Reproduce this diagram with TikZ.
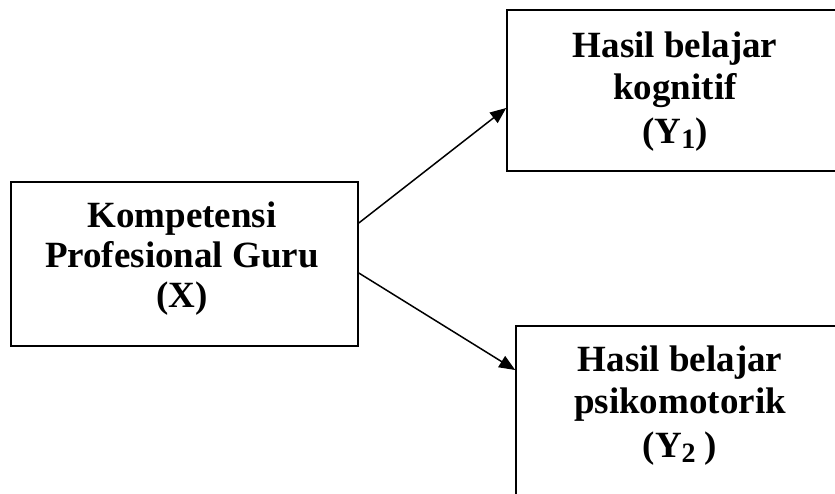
\documentclass[tikz,border=0pt]{standalone}
\usepackage{fontspec}
\setmainfont{Liberation Serif}
\usetikzlibrary{arrows.meta}
\newcommand{\mysub}[1]{\raisebox{-0.3ex}{\fontsize{28}{28}\selectfont #1}}
\begin{document}
\begin{tikzpicture}[x=1pt,y=-1pt,
  box/.style={draw, line width=1.6pt, rectangle, inner sep=0pt},
  lbl/.style={font=\bfseries\fontsize{37}{40}\selectfont, align=center, inner sep=0pt, anchor=base},
  conn/.style={line width=1.5pt, -{Triangle[length=16pt,width=13pt]}}]
\useasboundingbox (0,0) rectangle (835,493);
\clip (0,0) rectangle (835,493);
\node[box, minimum width=347pt, minimum height=164pt] (X) at (184.5,264) {};
\node[box, minimum width=336pt, minimum height=161pt] (Y1) at (675,90.5) {};
\node[box, minimum width=328pt, minimum height=175pt] (Y2) at (680,413.5) {};
\node[lbl] (tX) at (182,307) {Kompetensi\\Profesional Guru\\(X)};
\node[lbl] (tY1) at (675,143) {Hasil belajar\\[2pt]kognitif\\[4pt](Y\mysub{1})};
\node[lbl] (tY2) at (680,457) {Hasil belajar\\[2pt]psikomotorik\\[4pt](Y\mysub{2} )};
\draw[conn] ([yshift=41pt]X.east) -- ([yshift=-17.5pt]Y1.west);
\draw[conn] ([yshift=-9pt]X.east) -- ([yshift=43.5pt]Y2.west);
\end{tikzpicture}
\end{document}
